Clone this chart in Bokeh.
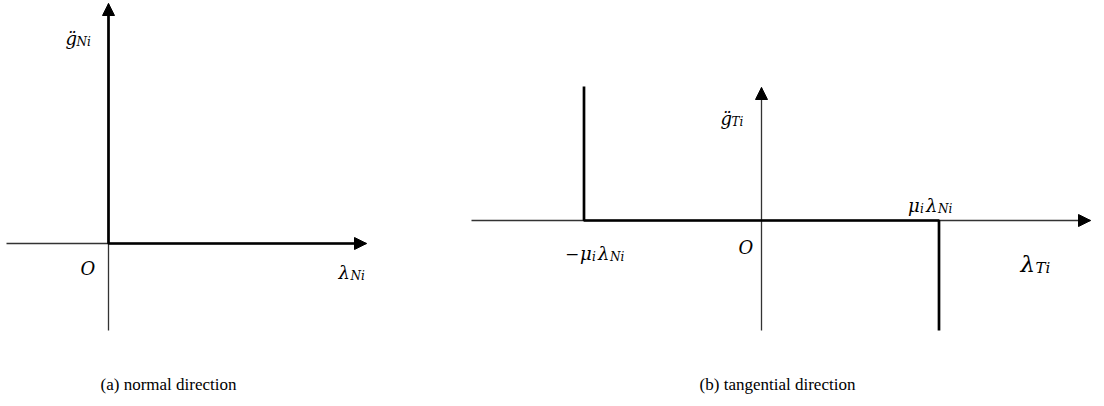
from bokeh.plotting import figure
from bokeh.layouts import row
from bokeh.models import Arrow, NormalHead, Range1d
from bokeh.core.properties import value
from bokeh.embed import file_html
from bokeh.resources import INLINE

# ---------------- data (diagram units: 1 unit = 100 px) ----------------
# (a) normal direction: complementarity graph  g_N >= 0, lambda_N >= 0
normal_axis_x = [-1.02, 2.58]      # lambda_N axis extent (tip at end)
normal_axis_y = [-0.87, 2.40]      # g_N axis extent (tip at end)
normal_graph_x = [0.0, 0.0, 2.50]
normal_graph_y = [2.32, 0.0, 0.0]

# (b) tangential direction: set-valued friction law
mu_lambda_N = 1.775
tangent_axis_x = [-2.90, 3.29]
tangent_axis_y = [-1.10, 1.33]
tangent_graph_x = [-mu_lambda_N, -mu_lambda_N, mu_lambda_N, mu_lambda_N]
tangent_graph_y = [1.34, 0.0, 0.0, -1.10]

captions = ["(a) normal direction", "(b) tangential direction"]

# ---------------- styling ----------------
PX = 0.01
SERIF = "Liberation Serif"
MATH = "DejaVu Serif"
THIN = dict(line_color="#333333", line_width=1.3)
THICK = dict(line_color="black", line_width=2.7)


def make_fig(width, xr, yr):
    p = figure(width=width, height=406, x_range=Range1d(*xr), y_range=Range1d(*yr),
               output_backend="svg", toolbar_location=None,
               x_axis_location=None, y_axis_location=None, min_border=0)
    p.grid.visible = False
    p.outline_line_color = None
    p.background_fill_color = "white"
    p.border_fill_color = "white"
    return p


def arrow_head(p, x0, y0, x1, y1):
    p.add_layout(Arrow(end=NormalHead(size=12, fill_color="black", line_color="black", line_width=1),
                       x_start=x0, y_start=y0, x_end=x1, y_end=y1, line_alpha=0))


def math_label(p, ox, oy, pieces):
    # pieces: (text, dx_px, dy_px_down, size_px, style)
    for t, dx, dy, s, st in pieces:
        p.text(x=[ox + dx * PX], y=[oy - dy * PX], text=[t],
               text_font=value(MATH), text_font_size=value(f"{s}px"),
               text_font_style=st, text_color="black",
               text_align="left", text_baseline="alphabetic")


def caption(p, ox, oy, dx, dy, t):
    p.text(x=[ox + dx * PX], y=[oy - dy * PX], text=[t],
           text_font=value(SERIF), text_font_size=value("17px"),
           text_color="black", text_align="center", text_baseline="alphabetic")


# ---------------- (a) normal ----------------
pa = make_fig(460, (-1.08, 3.52), (-1.63, 2.43))
pa.line(normal_axis_x, [0, 0], **THIN)
pa.line([0, 0], normal_axis_y, **THIN)
pa.line(normal_graph_x, normal_graph_y, **THICK)
arrow_head(pa, normal_axis_x[1] - 0.2, 0, normal_axis_x[1], 0)
arrow_head(pa, 0, normal_axis_y[1] - 0.2, 0, normal_axis_y[1])
math_label(pa, 0, 0, [
    ("g\u0308", -43, -205, 18, "italic"),
    ("Ni", -32, -202, 12, "italic"),
    ("O", -28, 25, 18, "italic"),
    ("\u03bb", 230, 29, 18, "italic"),
    ("Ni", 242, 32, 12, "italic"),
])
caption(pa, 0, 0, 60, 141, captions[0])

# ---------------- (b) tangential ----------------
pb = make_fig(644, (-3.01, 3.43), (-1.86, 2.20))
pb.line(tangent_axis_x, [0, 0], **THIN)
pb.line([0, 0], tangent_axis_y, **THIN)
pb.line(tangent_graph_x, tangent_graph_y, **THICK)
arrow_head(pb, tangent_axis_x[1] - 0.2, 0, tangent_axis_x[1], 0)
arrow_head(pb, 0, tangent_axis_y[1] - 0.2, 0, tangent_axis_y[1])
math_label(pb, 0, 0, [
    ("g\u0308", -41, -102, 18, "italic"),
    ("Ti", -30, -99, 12, "italic"),
    ("O", -23, 27, 18, "italic"),
    ("\u03bb", 259, 43, 23, "italic"),
    ("Ti", 274, 47, 15, "italic"),
])
math_label(pb, -mu_lambda_N, 0, [
    ("\u2212", -19, 33, 17, "normal"),
    ("\u03bc", -4, 33, 18, "italic"),
    ("i", 8, 36, 12, "italic"),
    ("\u03bb", 14, 33, 18, "italic"),
    ("Ni", 26, 36, 12, "italic"),
])
math_label(pb, mu_lambda_N, 0, [
    ("\u03bc", -31, -15, 18, "italic"),
    ("i", -19, -12, 12, "italic"),
    ("\u03bb", -13, -15, 18, "italic"),
    ("Ni", -1, -12, 12, "italic"),
])
caption(pb, 0, 0, 16, 164, captions[1])

layout = row(pa, pb)
open("out.html", "w").write(file_html(layout, INLINE))
